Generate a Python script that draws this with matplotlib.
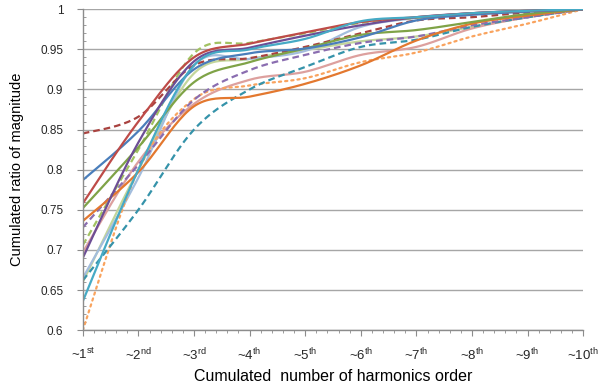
#!/usr/bin/env python3

import numpy as np
import matplotlib
matplotlib.use("Agg")
import matplotlib.pyplot as plt
from matplotlib.ticker import MultipleLocator, AutoMinorLocator

plt.rcParams["font.family"] = ["Liberation Sans", "DejaVu Sans"]
plt.rcParams["mathtext.fontset"] = "custom"
plt.rcParams["mathtext.rm"] = "Liberation Sans"
plt.rcParams["mathtext.it"] = "Liberation Sans"

orders = ["1st", "2nd", "3rd", "4th", "5th", "6th", "7th", "8th", "9th", "10th"]

blue = [0.787, 0.848, 0.925, 0.945, 0.951, 0.965, 0.986, 0.993, 0.997, 1.0]
red = [0.758, 0.860, 0.940, 0.957, 0.971, 0.984, 0.990, 0.995, 0.998, 1.0]
green = [0.752, 0.828, 0.909, 0.934, 0.951, 0.968, 0.974, 0.984, 0.994, 1.0]
purple = [0.690, 0.834, 0.935, 0.952, 0.967, 0.980, 0.990, 0.995, 0.998, 1.0]
aqua = [0.636, 0.800, 0.930, 0.950, 0.963, 0.985, 0.990, 0.995, 0.998, 1.0]
orange = [0.736, 0.797, 0.879, 0.891, 0.907, 0.930, 0.961, 0.982, 0.992, 1.0]
red_dash = [0.845, 0.866, 0.930, 0.939, 0.953, 0.970, 0.986, 0.990, 0.996, 1.0]
green_dash = [0.706, 0.825, 0.945, 0.958, 0.970, 0.983, 0.989, 0.994, 0.998, 1.0]
purple_dash = [0.728, 0.806, 0.887, 0.924, 0.943, 0.958, 0.966, 0.980, 0.990, 1.0]
teal_dash = [0.662, 0.750, 0.850, 0.900, 0.928, 0.953, 0.962, 0.978, 0.990, 1.0]
orange_dot = [0.600, 0.800, 0.888, 0.905, 0.914, 0.934, 0.946, 0.966, 0.982, 1.0]
light_blue = [0.665, 0.790, 0.930, 0.938, 0.948, 0.978, 0.989, 0.995, 0.998, 1.0]
light_green = [0.660, 0.800, 0.920, 0.938, 0.949, 0.960, 0.966, 0.978, 0.990, 1.0]
pink = [0.697, 0.810, 0.882, 0.912, 0.922, 0.943, 0.953, 0.976, 0.990, 1.0]

series = [
    (light_green, "#C3D69B", "-"),
    (pink, "#DDA09E", "-"),
    (light_blue, "#A3BDDD", "-"),
    (orange_dot, "#F9A35E", ":"),
    (teal_dash, "#3593AA", "--"),
    (purple_dash, "#8A6DB0", "--"),
    (green_dash, "#A2C262", "--"),
    (red_dash, "#A9423F", "--"),
    (orange, "#E3782F", "-"),
    (green, "#7FA347", "-"),
    (blue, "#4A7EBB", "-"),
    (purple, "#6D4E95", "-"),
    (red, "#BE4B48", "-"),
    (aqua, "#46AAC5", "-"),
]


def smooth(xs, ys, n=24):
    # cubic bezier through the points, excel style smoothing
    xs = np.asarray(xs, float)
    ys = np.asarray(ys, float)
    px = np.concatenate([[xs[0]], xs, [xs[-1]]])
    py = np.concatenate([[ys[0]], ys, [ys[-1]]])
    out_x, out_y = [], []
    t = np.linspace(0, 1, n)
    for i in range(1, len(px) - 2):
        x0, x1, x2, x3 = px[i - 1:i + 3]
        y0, y1, y2, y3 = py[i - 1:i + 3]
        cx1, cy1 = x1 + (x2 - x0) / 6, y1 + (y2 - y0) / 6
        cx2, cy2 = x2 - (x3 - x1) / 6, y2 - (y3 - y1) / 6
        bx = (1 - t) ** 3 * x1 + 3 * (1 - t) ** 2 * t * cx1 + 3 * (1 - t) * t ** 2 * cx2 + t ** 3 * x2
        by = (1 - t) ** 3 * y1 + 3 * (1 - t) ** 2 * t * cy1 + 3 * (1 - t) * t ** 2 * cy2 + t ** 3 * y2
        out_x.extend(bx)
        out_y.extend(by)
    return out_x, out_y


def main():
    fig = plt.figure(figsize=(6.0, 3.83), dpi=100)
    ax = fig.add_axes([0.138, 0.138, 0.834, 0.838])

    x = np.arange(1, len(orders) + 1)
    for vals, col, ls in series:
        sx, sy = smooth(x, vals)
        kw = dict(color=col, lw=1.6, ls=ls, solid_capstyle="round")
        if ls == ":":
            kw.update(dashes=(1, 1.8), dash_capstyle="round")
        elif ls == "--":
            kw.update(dashes=(3, 1.8))
        ax.plot(sx, sy, **kw)

    ax.set_xlim(1, 10)
    ax.set_ylim(0.6, 1.0)
    ax.yaxis.set_major_locator(MultipleLocator(0.05))
    ax.yaxis.set_minor_locator(AutoMinorLocator(5))
    ax.xaxis.set_major_locator(MultipleLocator(1))
    ax.xaxis.set_minor_locator(AutoMinorLocator(5))

    ylabels = ["0.6", "0.65", "0.7", "0.75", "0.8", "0.85", "0.9", "0.95", "1"]
    ax.set_yticks(np.linspace(0.6, 1.0, 9))
    ax.set_yticklabels(ylabels, fontsize=8.5, color="#262626")
    ax.set_xticks(x)
    ax.set_xticklabels(
        ["~" + o[:-2] + r"$^{\mathrm{" + o[-2:] + "}}$" for o in orders],
        fontsize=9.5, color="#262626",
    )

    ax.grid(axis="y", which="major", color="#A6A6A6", lw=1.0)
    ax.set_axisbelow(True)
    for side in ("top", "right"):
        ax.spines[side].set_visible(False)
    for side in ("left", "bottom"):
        ax.spines[side].set_color("#8C8C8C")
        ax.spines[side].set_linewidth(1.0)

    ax.tick_params(axis="both", which="major", color="#8C8C8C", length=4, direction="out")
    ax.tick_params(axis="x", which="minor", color="#8C8C8C", length=2.5, direction="out")
    ax.tick_params(axis="y", which="minor", color="#8C8C8C", length=2.5, direction="in")
    ax.tick_params(axis="x", pad=8)
    ax.tick_params(axis="y", pad=10)

    ax.set_xlabel("Cumulated  number of harmonics order", fontsize=11.5, labelpad=4)
    ax.set_ylabel("Cumulated ratio of magnitude", fontsize=10.5, labelpad=12)

    fig.savefig("out.png", dpi=100)
    plt.close(fig)


if __name__ == "__main__":
    main()
